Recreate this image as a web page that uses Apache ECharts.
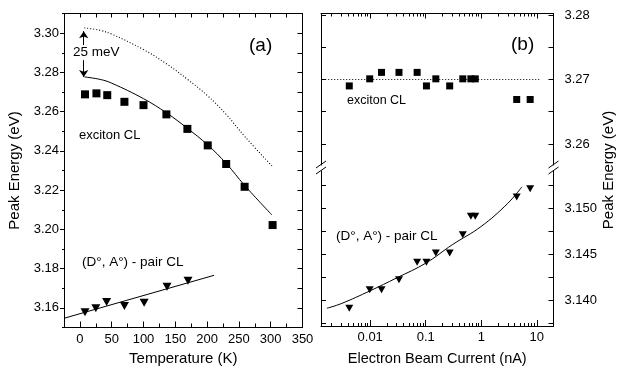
<!DOCTYPE html>
<html><head><meta charset="utf-8">
<script src="https://cdn.jsdelivr.net/npm/echarts@6/dist/echarts.min.js"></script>
<style>html,body{margin:0;padding:0;background:#fff}#c{width:619px;height:376px}</style>
</head><body><div id="c"></div>
<script>
// ---------- Panel (a): temperature dependence ----------
const tempK        = [8, 26, 43, 70, 100, 136, 169, 201, 230, 259, 303];
const excitonT     = [3.2688, 3.2693, 3.2684, 3.2650, 3.2633, 3.2586, 3.2512, 3.2428, 3.2333, 3.2217, 3.2022];
const pairTempK    = [8, 25, 42, 70, 101, 137, 170];
const pairT        = [3.1578, 3.1598, 3.1630, 3.1609, 3.1626, 3.1708, 3.1738];
const fitTempK     = [7, 32, 50, 100, 136, 169, 201, 230, 259, 302];
const excitonFit   = [3.2777, 3.2764, 3.2745, 3.2666, 3.2594, 3.2515, 3.2430, 3.2336, 3.2224, 3.2073];
const freeExcFit   = [3.3027, 3.3014, 3.2995, 3.2916, 3.2844, 3.2765, 3.2680, 3.2586, 3.2474, 3.2323];
const pairFitTempK = [-25, 211];
const pairFitT     = [3.1547, 3.1766];
const arrowT       = 6;
const arrowUp      = [3.2939, 3.3010];
const arrowDown    = [3.2862, 3.2777];

// ---------- Panel (b): beam current dependence ----------
const currentNA    = [0.0042, 0.0098, 0.016, 0.033, 0.07, 0.103, 0.152, 0.27, 0.465, 0.65, 0.78, 4.35, 7.6];
const excitonI     = [3.2690, 3.2701, 3.2711, 3.2711, 3.2711, 3.2690, 3.2701, 3.2690, 3.2701, 3.2701, 3.2701, 3.2669, 3.2669];
const pairI        = [3.1391, 3.1411, 3.1411, 3.1422, 3.1441, 3.1441, 3.1451, 3.1451, 3.1471, 3.1491, 3.1491, 3.1512, 3.1521];
const pairFitI     = [0.00166, 0.003, 0.01, 0.03, 0.1, 0.3, 1, 3, 5.4];
const pairFitE     = [3.1391, 3.1396, 3.1410, 3.1424, 3.1440, 3.1460, 3.1480, 3.1505, 3.1523];
const refLineI     = [0.00155, 11.6];
const refLineE     = [3.27, 3.27];

// ---------- Axes / ticks ----------
const xMinL = -25, xMaxL = 350;
const yMinL = 3.15, yMaxL = 3.31;
const xTicksL  = [0, 50, 100, 150, 200, 250, 300, 350];
const xMinorL  = [-25, 25, 75, 125, 175, 225, 275, 325];
const yTicksL  = [3.16, 3.18, 3.20, 3.22, 3.24, 3.26, 3.28, 3.30];
const yMinorL  = [3.15, 3.17, 3.19, 3.21, 3.23, 3.25, 3.27, 3.29, 3.31];
const xMinR = 0.0013, xMaxR = 20;
const yMinUp = 3.25674, yMaxUp = 3.28023;
const yTicksUp = [3.26, 3.27, 3.28];
const yMinorUp = [3.265, 3.275];
const yMinLow = 3.13717, yMaxLow = 3.15402;
const yTicksLow = [3.140, 3.145, 3.150];
const yMinorLow = [3.1375, 3.1425, 3.1475, 3.1525];

const F = 'Liberation Sans';
const K = '#000';
const zip = (a, b) => a.map((v, i) => [v, b[i]]);

function axis(o) {
  return Object.assign({
    axisLine: {show: true, onZero: false, lineStyle: {color: K, width: 1}},
    splitLine: {show: false},
    axisLabel: {show: false},
    axisTick: {show: false}
  }, o);
}
function ticks(vals, inside, len) {
  return {show: true, inside: inside, length: len, customValues: vals, lineStyle: {color: K, width: 1}};
}
const noLine = {show: false, onZero: false};
const lbl = (vals, fmt, margin) => ({show: true, customValues: vals, formatter: fmt, color: K, fontFamily: F, fontSize: 13, margin: margin});
const logMinor = len => ({show: true, splitNumber: 9, length: len, lineStyle: {color: K, width: 1}});

const chart = echarts.init(document.getElementById('c'), null, {renderer: 'canvas'});
chart.setOption({
  animation: false,
  backgroundColor: '#fff',
  grid: [
    {left: 64, top: 13.5, width: 238.5, height: 314, outerBoundsMode: 'none'},
    {left: 321, top: 13.5, width: 232.5, height: 151.5, outerBoundsMode: 'none'},
    {left: 321, top: 171, width: 232.5, height: 155, outerBoundsMode: 'none'}
  ],
  xAxis: [
    axis({gridIndex: 0, type: 'value', position: 'bottom', min: xMinL, max: xMaxL,
      axisTick: ticks(xTicksL, true, 6),
      axisLabel: lbl(xTicksL, v => String(v), 5),
      name: 'Temperature (K)', nameLocation: 'middle', nameGap: 24,
      nameTextStyle: {color: K, fontFamily: F, fontSize: 15}}),
    axis({gridIndex: 0, type: 'value', position: 'bottom', min: xMinL, max: xMaxL,
      axisLine: noLine, axisTick: ticks(xMinorL, true, 4)}),
    axis({gridIndex: 0, type: 'value', position: 'top', min: xMinL, max: xMaxL,
      axisTick: ticks(xTicksL.concat(xMinorL), true, 4)}),
    axis({gridIndex: 1, type: 'log', position: 'top', min: xMinR, max: xMaxR,
      axisTick: {show: true, inside: true, length: 5, lineStyle: {color: K, width: 1}},
      minorTick: logMinor(3)}),
    axis({gridIndex: 2, type: 'log', position: 'bottom', min: xMinR, max: xMaxR,
      axisTick: {show: true, inside: true, length: 6, lineStyle: {color: K, width: 1}},
      minorTick: logMinor(3),
      axisLabel: {show: true, showMinLabel: false, showMaxLabel: false, color: K, fontFamily: F, fontSize: 13, margin: 5,
        formatter: v => String(+Number(v).toPrecision(3))},
      name: 'Electron Beam Current (nA)', nameLocation: 'middle', nameGap: 25,
      nameTextStyle: {color: K, fontFamily: F, fontSize: 14.5}})
  ],
  yAxis: [
    axis({gridIndex: 0, type: 'value', position: 'left', min: yMinL, max: yMaxL,
      axisTick: ticks(yTicksL, false, 4),
      axisLabel: lbl(yTicksL, v => Number(v).toFixed(2), 5),
      name: 'Peak Energy (eV)', nameLocation: 'middle', nameGap: 42, nameRotate: 90,
      nameTextStyle: {color: K, fontFamily: F, fontSize: 15}}),
    axis({gridIndex: 0, type: 'value', position: 'left', min: yMinL, max: yMaxL,
      axisLine: noLine, axisTick: ticks(yMinorL, false, 2)}),
    axis({gridIndex: 0, type: 'value', position: 'right', min: yMinL, max: yMaxL,
      axisTick: ticks(yTicksL.concat(yMinorL), true, 5)}),
    axis({gridIndex: 1, type: 'value', position: 'left', min: yMinUp, max: yMaxUp,
      axisTick: ticks(yTicksUp.concat(yMinorUp), true, 5)}),
    axis({gridIndex: 1, type: 'value', position: 'right', min: yMinUp, max: yMaxUp,
      axisTick: ticks(yTicksUp.concat(yMinorUp), true, 5),
      axisLabel: lbl(yTicksUp, v => Number(v).toFixed(2), 11)}),
    axis({gridIndex: 2, type: 'value', position: 'left', min: yMinLow, max: yMaxLow,
      axisTick: ticks(yTicksLow.concat(yMinorLow), true, 5)}),
    axis({gridIndex: 2, type: 'value', position: 'right', min: yMinLow, max: yMaxLow,
      axisTick: ticks(yTicksLow.concat(yMinorLow), true, 5),
      axisLabel: lbl(yTicksLow, v => Number(v).toFixed(3), 11)})
  ],
  series: [
    {type: 'scatter', xAxisIndex: 0, yAxisIndex: 0, data: zip(tempK, excitonT),
      symbol: 'rect', symbolSize: 8, itemStyle: {color: K, opacity: 1}, silent: true},
    {type: 'scatter', xAxisIndex: 0, yAxisIndex: 0, data: zip(pairTempK, pairT),
      symbol: 'triangle', symbolRotate: 180, symbolSize: [9, 8], itemStyle: {color: K, opacity: 1}, silent: true},
    {type: 'line', xAxisIndex: 0, yAxisIndex: 0, data: zip(fitTempK, excitonFit), smooth: 0.4,
      showSymbol: false, lineStyle: {color: K, width: 1}, silent: true,
      markLine: {silent: true, symbol: ['none', 'arrow'], symbolSize: 7, animation: false,
        lineStyle: {color: K, width: 1, type: 'solid'}, label: {show: false},
        data: [
          [{coord: [arrowT, arrowUp[0]]}, {coord: [arrowT, arrowUp[1]]}],
          [{coord: [arrowT, arrowDown[0]]}, {coord: [arrowT, arrowDown[1]]}]
        ]}},
    {type: 'line', xAxisIndex: 0, yAxisIndex: 0, data: zip(fitTempK, freeExcFit), smooth: 0.4,
      showSymbol: false, lineStyle: {color: K, width: 1.1, type: [1, 2]}, silent: true},
    {type: 'line', xAxisIndex: 0, yAxisIndex: 0, data: zip(pairFitTempK, pairFitT),
      showSymbol: false, lineStyle: {color: K, width: 1}, silent: true},

    {type: 'scatter', xAxisIndex: 3, yAxisIndex: 3, data: zip(currentNA, excitonI),
      symbol: 'rect', symbolSize: 7, itemStyle: {color: K, opacity: 1}, silent: true},
    {type: 'line', xAxisIndex: 3, yAxisIndex: 3, data: zip(refLineI, refLineE),
      showSymbol: false, lineStyle: {color: K, width: 1.1, type: [1, 2]}, silent: true},
    {type: 'scatter', xAxisIndex: 4, yAxisIndex: 5, data: zip(currentNA, pairI),
      symbol: 'triangle', symbolRotate: 180, symbolSize: [8, 7], itemStyle: {color: K, opacity: 1}, silent: true},
    {type: 'line', xAxisIndex: 4, yAxisIndex: 5, data: zip(pairFitI, pairFitE), smooth: 0.4,
      showSymbol: false, lineStyle: {color: K, width: 1}, silent: true}
  ],
  graphic: [
    {type: 'text', x: 249, y: 46, silent: true, style: {text: '(a)', fill: K, font: '19px "Liberation Sans"', align: 'left', verticalAlign: 'middle'}},
    {type: 'text', x: 511, y: 45, silent: true, style: {text: '(b)', fill: K, font: '19px "Liberation Sans"', align: 'left', verticalAlign: 'middle'}},
    {type: 'text', x: 73, y: 52, silent: true, style: {text: '25 meV', fill: K, font: '13.5px "Liberation Sans"', align: 'left', verticalAlign: 'middle'}},
    {type: 'text', x: 79, y: 135, silent: true, style: {text: 'exciton CL', fill: K, font: '13px "Liberation Sans"', align: 'left', verticalAlign: 'middle'}},
    {type: 'text', x: 82, y: 262, silent: true, style: {text: '(D°, A°) - pair CL', fill: K, font: '13.5px "Liberation Sans"', align: 'left', verticalAlign: 'middle'}},
    {type: 'text', x: 347, y: 101, silent: true, style: {text: 'exciton CL', fill: K, font: '12.5px "Liberation Sans"', align: 'left', verticalAlign: 'middle'}},
    {type: 'text', x: 336, y: 236, silent: true, style: {text: '(D°, A°) - pair CL', fill: K, font: '13.5px "Liberation Sans"', align: 'left', verticalAlign: 'middle'}},
    {type: 'text', x: 609, y: 170, rotation: Math.PI / 2, silent: true, style: {text: 'Peak Energy (eV)', fill: K, font: '15px "Liberation Sans"', align: 'center', verticalAlign: 'middle'}},
    {type: 'line', silent: true, shape: {x1: 316, y1: 168, x2: 326, y2: 161}, style: {stroke: K, lineWidth: 1}},
    {type: 'line', silent: true, shape: {x1: 316, y1: 174, x2: 326, y2: 167}, style: {stroke: K, lineWidth: 1}},
    {type: 'line', silent: true, shape: {x1: 548.5, y1: 168, x2: 558.5, y2: 161}, style: {stroke: K, lineWidth: 1}},
    {type: 'line', silent: true, shape: {x1: 548.5, y1: 174, x2: 558.5, y2: 167}, style: {stroke: K, lineWidth: 1}}
  ]
});
</script></body></html>
